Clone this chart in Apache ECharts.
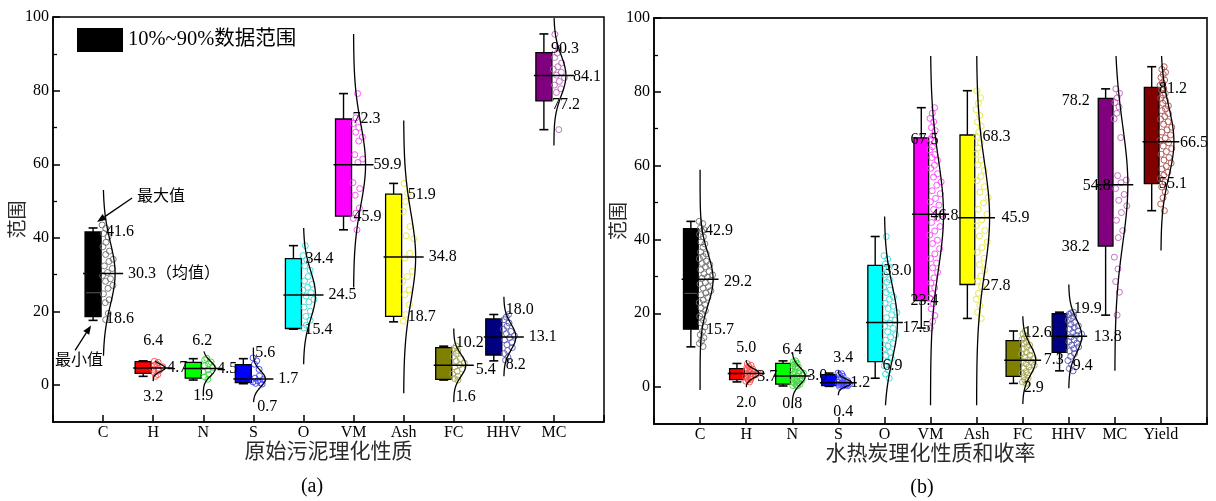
<!DOCTYPE html>
<html>
<head>
<meta charset="utf-8">
<script src="https://cdn.jsdelivr.net/npm/echarts@6/dist/echarts.min.js"></script>
<style>
  html, body { margin: 0; padding: 0; background: #fff; }
  #chart { width: 1216px; height: 501px; }
</style>
</head>
<body>
<div id="chart"></div>
<script>
const SERIF = "'Liberation Serif', 'Noto Sans CJK SC', serif";
const CJK = "'Noto Sans CJK SC', 'Liberation Serif', sans-serif";

// ---- (a) raw sewage sludge ----
const catsA   = ['C', 'H', 'N', 'S', 'O', 'VM', 'Ash', 'FC', 'HHV', 'MC'];
const p10A    = [18.6, 3.2, 1.9, 0.7, 15.4, 45.9, 18.7, 1.6, 8.2, 77.2];
const meanA   = [30.3, 4.7, 4.5, 1.7, 24.5, 59.9, 34.8, 5.4, 13.1, 84.1];
const p90A    = [41.6, 6.4, 6.2, 5.6, 34.4, 72.3, 51.9, 10.2, 18.0, 90.3];
const minA    = [17.6, 2.4, 1.4, 0.4, 15.2, 42.2, 17.2, 1.4, 6.6, 69.4];
const maxA    = [42.7, 6.6, 7.2, 7.2, 37.9, 79.2, 54.8, 10.6, 19.2, 95.4];
const medianA = [25.1, null, null, null, null, null, null, null, null, null];
const sdA     = [8.5, 1.0, 2.0, 2.2, 6.5, 11, 12, 3.0, 3.5, 5.5];
const curveLoA = [8, 1.1, -3, -4.6, 5.7, 26.5, -2.2, -4.6, 2.4, 65.1];
const curveHiA = [53, 6.6, 9.2, 10.2, 42.7, 95.4, 71.9, 15.4, 24, 99.7];
const pointsA = [
  [43.5, 42.6, 41.2, 40.3, 38.8, 37.6, 36.4, 35.5, 34.2, 33.6, 32.4, 31.7, 30.6, 29.8, 28.9, 28.2, 27.1, 26.3, 24.8, 23.2, 22.4, 19.5, 17.8],
  [6.5, 6.2, 5.8, 5.4, 5.0, 4.6, 4.3, 3.9, 3.4, 2.9, 2.4],
  [7.3, 6.9, 6.3, 5.8, 5.3, 4.8, 4.2, 3.6, 2.9, 2.3, 1.6],
  [7.4, 6.6, 5.7, 4.3, 2.5, 1.9, 1.5, 1.2, 0.9, 0.7, 0.5, 0.3],
  [37.9, 35.2, 34.1, 32.4, 31.2, 29.5, 28.3, 27.4, 26.6, 25.8, 25.1, 24.2, 23.3, 22.6, 21.2, 20.1, 18.7, 17.6, 16.3, 15.5],
  [79.2, 72.6, 71.1, 70.0, 68.7, 67.4, 66.3, 62.6, 61.4, 60.5, 55.0, 53.4, 51.6, 48.1, 46.7, 45.3, 42.2],
  [54.8, 52.1, 49.9, 47.2, 43.1, 40.6, 39.8, 35.8, 34.5, 30.9, 29.5, 28.2, 25.9, 24.6, 21.9, 19.2, 17.4],
  [10.6, 10.0, 9.4, 8.6, 7.8, 7.2, 6.5, 6.0, 5.5, 5.0, 4.4, 3.8, 3.0, 2.4, 1.8, 1.4],
  [19.2, 18.5, 17.8, 16.9, 16.0, 15.2, 14.6, 14.0, 13.4, 12.9, 12.3, 11.6, 11.0, 10.2, 9.4, 8.6, 7.6, 6.8],
  [95.3, 91.5, 90.2, 89.0, 87.5, 86.5, 85.8, 85.0, 84.2, 83.5, 82.5, 81.5, 80.5, 79.5, 69.4]
];

// ---- (b) hydrochar and yield ----
const catsB   = ['C', 'H', 'N', 'S', 'O', 'VM', 'Ash', 'FC', 'HHV', 'MC', 'Yield'];
const p10B    = [15.7, 2.0, 0.8, 0.4, 6.9, 23.4, 27.8, 2.9, 9.4, 38.2, 55.1];
const meanB   = [29.2, 3.7, 3.0, 1.2, 17.5, 46.8, 45.9, 7.3, 13.8, 54.8, 66.5];
const p90B    = [42.9, 5.0, 6.4, 3.4, 33.0, 67.5, 68.3, 12.6, 19.9, 78.2, 81.2];
const minB    = [10.9, 1.4, 0.3, 0.2, 2.4, 16.0, 18.6, 1.0, 4.4, 19.5, 47.8];
const maxB    = [44.9, 6.4, 7.1, 3.8, 40.8, 75.7, 80.3, 15.2, 20.3, 80.8, 86.8];
const medianB = [25.4, null, null, null, null, null, null, null, null, null, null];
const sdB     = [7, 1.2, 2.3, 1.0, 10, 15, 15, 4, 4.5, 16, 9.5];
const curveLoB = [-0.8, 0, -5.7, -2.2, -4.9, -4.9, -4.9, -4.6, -0.3, 4.4, 37];
const curveHiB = [58.9, 7.3, 9.2, 4.5, 46.2, 89.7, 89.7, 19.2, 27.8, 89.7, 89.7];
const pointsB = [
  [44.9, 44.3, 43.1, 42.6, 42.2, 41.4, 40.7, 39.3, 38.8, 37.9, 36.6, 36.1, 35.4, 34.8, 34.1, 33.5, 33.2, 32.6, 31.8, 31.3, 30.7, 30.4, 29.8, 29.5, 28.9, 28.3, 27.9, 27.2, 26.8, 26.1, 25.5, 25.0, 24.3, 23.6, 22.9, 22.4, 21.5, 20.7, 19.8, 19.2, 18.1, 17.4, 16.3, 15.1, 14.2, 13.4, 12.6, 11.8, 11.0],
  [6.3, 5.9, 5.6, 5.2, 4.9, 4.7, 4.5, 4.2, 4.0, 3.8, 3.6, 3.5, 3.3, 3.0, 2.8, 2.6, 2.4, 2.1, 1.9, 1.6, 1.4],
  [7.1, 6.9, 6.4, 6.2, 5.8, 5.4, 5.2, 4.9, 4.4, 4.1, 3.8, 3.7, 3.3, 3.1, 2.9, 2.6, 2.4, 2.2, 1.9, 1.7, 1.4, 1.2, 1.0, 0.8, 0.6, 0.4, 0.3],
  [3.8, 3.6, 3.3, 2.9, 2.4, 2.0, 1.7, 1.5, 1.3, 1.1, 1.0, 0.9, 0.8, 0.7, 0.6, 0.5, 0.4, 0.3, 0.2],
  [40.8, 35.6, 34.7, 33.4, 32.6, 31.2, 30.5, 29.1, 28.4, 27.2, 26.3, 25.6, 24.4, 23.8, 22.7, 21.9, 21.3, 20.2, 19.6, 18.8, 18.1, 17.3, 16.5, 15.9, 15.0, 14.2, 13.6, 12.7, 11.8, 11.1, 10.3, 9.4, 8.6, 7.8, 6.9, 5.8, 4.6, 3.5, 2.4],
  [75.7, 74.2, 72.8, 71.9, 70.3, 69.5, 68.1, 67.2, 66.4, 65.1, 64.3, 63.0, 62.2, 61.4, 60.1, 59.3, 57.8, 56.9, 55.6, 54.7, 53.2, 52.4, 51.1, 50.2, 49.3, 48.1, 46.9, 45.8, 44.6, 43.5, 42.3, 41.2, 39.8, 38.9, 37.5, 36.1, 34.8, 33.6, 32.3, 31.1, 29.6, 28.2, 26.9, 25.3, 24.1, 22.6, 21.2, 19.4, 17.8, 16.0],
  [80.3, 78.4, 76.9, 75.2, 73.6, 71.8, 70.7, 69.1, 67.9, 66.2, 64.8, 63.1, 61.5, 60.2, 58.7, 57.1, 55.9, 54.3, 52.8, 51.4, 49.9, 48.2, 46.8, 45.3, 43.7, 42.4, 40.9, 39.3, 37.8, 36.5, 34.9, 33.2, 31.8, 30.1, 28.7, 27.2, 25.4, 23.8, 22.1, 20.3, 18.6],
  [15.2, 14.4, 13.8, 13.3, 12.9, 12.3, 11.8, 11.4, 10.9, 10.3, 9.9, 9.4, 9.0, 8.6, 8.1, 7.7, 7.4, 7.0, 6.7, 6.3, 5.9, 5.5, 5.1, 4.6, 4.2, 3.8, 3.3, 2.8, 2.4, 1.9, 1.4, 1.0],
  [20.3, 20.1, 19.7, 19.2, 18.6, 18.1, 17.5, 17.0, 16.6, 16.1, 15.7, 15.2, 14.8, 14.4, 14.0, 13.6, 13.1, 12.8, 12.3, 11.9, 11.4, 10.9, 10.4, 9.8, 9.1, 8.3, 7.2, 6.1, 5.0, 4.4],
  [80.8, 79.6, 78.4, 77.1, 75.9, 74.2, 72.7, 67.6, 57.3, 56.1, 55.4, 53.8, 52.2, 50.6, 49.1, 47.3, 45.2, 42.4, 40.5, 35.2, 32.0, 28.6, 25.7, 19.5],
  [86.8, 86.1, 85.3, 84.7, 83.9, 83.2, 82.4, 81.8, 81.0, 80.5, 79.6, 79.1, 78.3, 77.6, 76.9, 76.2, 75.4, 74.9, 74.1, 73.3, 72.6, 71.9, 71.2, 70.4, 69.7, 69.1, 68.3, 67.5, 66.8, 66.2, 65.3, 64.6, 63.8, 63.1, 62.2, 61.5, 60.7, 59.8, 59.1, 58.2, 57.4, 56.5, 55.6, 54.2, 52.9, 51.3, 49.6, 47.8]
];

// axis tick values
const yMajorTicks = [0, 20, 40, 60, 80, 100];
const yMinorTicks = [30, 50, 70, 90];

// box fills and scatter outline colours
const boxColors   = ['#000000', '#ff0000', '#00ff00', '#0000ff', '#00ffff', '#ff00ff', '#ffff00', '#808000', '#000080', '#800080', '#800000'];
const pointColors = ['#6e6e6e', '#ff4a4a', '#3ad83a', '#4040ff', '#30dede', '#ff40ff', '#e6e632', '#a6a64e', '#5a5ab8', '#c060c0', '#b05050'];

// label offsets in pixels: [dx, dy, align] for the 90%, mean and 10% labels
const labTopA  = [[3,0,'left'],[0,-21,'center'],[-1,-22,'center'],[2,-12,'left'],[2,0,'left'],[-1,0,'left'],[4,1,'left'],[2,-5,'left'],[2,-9,'left'],[-3,-4,'left']];
const labMeanA = [[25,0,'left'],[14,0,'left'],[14,0,'left'],[25,0,'left'],[25,0,'left'],[20,0,'left'],[25,0,'left'],[22,4,'left'],[25,0,'left'],[19,1,'left']];
const labBotA  = [[3,2,'left'],[0,23,'center'],[0,18,'center'],[4,24,'left'],[1,1,'left'],[0,1,'left'],[4,0,'left'],[2,18,'left'],[2,10,'left'],[-2,4,'left']];
const labTopB  = [[5,2,'left'],[0,-21,'center'],[0,-14,'center'],[5,-17,'center'],[-1,6,'left'],[-6,2,'center'],[6,2,'left'],[1,-8,'left'],[5,-5,'left'],[-25,2,'right'],[-2,1,'left']];
const labMeanB = [[24,2,'left'],[11,3,'left'],[15,0,'left'],[12,0,'left'],[18,5,'left'],[0,1,'left'],[25,0,'left'],[21,0,'left'],[25,1,'left'],[-4,1,'right'],[19,1,'left']];
const labBotB  = [[6,1,'left'],[0,23,'center'],[0,20,'center'],[5,26,'center'],[-2,4,'left'],[-6,0,'center'],[6,1,'left'],[1,11,'left'],[4,13,'left'],[-25,1,'right'],[-2,0,'left']];

const panelA = {
  cats: catsA, p10: p10A, mean: meanA, p90: p90A, min: minA, max: maxA, median: medianA,
  sd: sdA, lo: curveLoA, hi: curveHiA, points: pointsA,
  labTop: labTopA, labMean: labMeanA, labBot: labBotA,
  meanSuffix: ['（均值）'], amp: 12, notes: true
};
const panelB = {
  cats: catsB, p10: p10B, mean: meanB, p90: p90B, min: minB, max: maxB, median: medianB,
  sd: sdB, lo: curveLoB, hi: curveHiB, points: pointsB,
  labTop: labTopB, labMean: labMeanB, labBot: labBotB,
  meanSuffix: [], amp: 13, notes: false
};

function line(x1, y1, x2, y2, w, col) {
  return { type: 'line', shape: { x1, y1, x2, y2 }, style: { stroke: col || '#000', lineWidth: w || 1.3 } };
}
function text(x, y, str, align, size, family) {
  return {
    type: 'text', x, y,
    style: {
      text: str, fill: '#000', font: (size || 16) + 'px ' + (family || SERIF),
      textAlign: align, textVerticalAlign: 'middle', align: align, verticalAlign: 'middle'
    }
  };
}
function arrow(x1, y1, x2, y2) {
  const a = Math.atan2(y2 - y1, x2 - x1), L = 9, W = 3.5;
  const bx = x2 - L * Math.cos(a), by = y2 - L * Math.sin(a);
  const nx = -Math.sin(a) * W, ny = Math.cos(a) * W;
  return [
    line(x1, y1, bx, by, 1.3),
    { type: 'polygon', shape: { points: [[x2, y2], [bx + nx, by + ny], [bx - nx, by - ny]] }, style: { fill: '#000' } }
  ];
}

function buildPanel(P, gi) {
  const yi = gi * 2;
  const curveW = (i, v) => {
    const z = (v - P.mean[i]) / P.sd[i];
    return P.amp * Math.exp(-0.5 * z * z);
  };
  const catData = P.cats.map((_, i) => [i + 1, P.mean[i]]);

  const boxes = {
    type: 'custom', xAxisIndex: gi, yAxisIndex: yi, z: 2, silent: true, clip: false,
    encode: { x: 0, y: 1 }, data: catData,
    renderItem(params, api) {
      const i = params.dataIndex, c = i + 1;
      const tl = api.coord([c - 0.36, P.p90[i]]);
      const br = api.coord([c - 0.04, P.p10[i]]);
      const bx = (tl[0] + br[0]) / 2;
      const yMax = api.coord([c, P.max[i]])[1];
      const yMin = api.coord([c, P.min[i]])[1];
      const ch = [
        line(bx, yMax, bx, tl[1], 1.4), line(bx, br[1], bx, yMin, 1.4),
        line(bx - 4.5, yMax, bx + 4.5, yMax, 1.6), line(bx - 4.5, yMin, bx + 4.5, yMin, 1.6),
        { type: 'rect', shape: { x: tl[0], y: tl[1], width: br[0] - tl[0], height: br[1] - tl[1] },
          style: { fill: boxColors[i], stroke: '#000', lineWidth: 1.3 } }
      ];
      if (P.median[i] != null) {
        const ym = api.coord([c, P.median[i]])[1];
        ch.push(line(tl[0] + 1, ym, br[0] - 1, ym, 1, '#5a5a5a'));
      }
      return { type: 'group', children: ch };
    }
  };

  const ptData = [];
  P.points.forEach((arr, i) => arr.forEach((v, k) => ptData.push([i + 1, v, k])));
  const points = {
    type: 'custom', xAxisIndex: gi, yAxisIndex: yi, z: 3, silent: true, clip: false,
    encode: { x: 0, y: 1 }, data: ptData,
    renderItem(params, api) {
      const c = api.value(0), v = api.value(1), k = api.value(2), i = c - 1;
      const p = api.coord([c, v]);
      const w = Math.max(5, curveW(i, v));
      const f = (k * 0.6180339 + i * 0.37) % 1;
      return {
        type: 'circle', shape: { cx: p[0] - 1 + f * (w + 1), cy: p[1], r: 3 },
        style: { fill: 'rgba(0,0,0,0)', stroke: pointColors[i], lineWidth: 0.9 }
      };
    }
  };

  const overlay = {
    type: 'custom', xAxisIndex: gi, yAxisIndex: yi, z: 4, silent: true, clip: false,
    encode: { x: 0, y: 1 }, data: catData,
    renderItem(params, api) {
      const i = params.dataIndex, c = i + 1;
      const pts = [];
      const n = 100;
      for (let s = 0; s <= n; s++) {
        const v = P.lo[i] + (P.hi[i] - P.lo[i]) * s / n;
        const p = api.coord([c, v]);
        pts.push([p[0] + curveW(i, v), p[1]]);
      }
      const ml = api.coord([c - 0.4, P.mean[i]]);
      const mr = api.coord([c + 0.4, P.mean[i]]);
      const lab = (val, L, str) => {
        const p = api.coord([c, val]);
        return text(p[0] + L[0], p[1] + L[1], str, L[2]);
      };
      const ch = [
        { type: 'polyline', shape: { points: pts }, style: { stroke: '#000', lineWidth: 1.3, fill: null } },
        line(ml[0], ml[1], mr[0], mr[1], 1.5),
        lab(P.p90[i], P.labTop[i], P.p90[i].toFixed(1)),
        lab(P.mean[i], P.labMean[i], P.mean[i].toFixed(1) + (P.meanSuffix[i] || '')),
        lab(P.p10[i], P.labBot[i], P.p10[i].toFixed(1))
      ];
      if (P.notes && i === 0) {
        const top = api.coord([c, P.max[i]]);
        const bot = api.coord([c, P.min[i]]);
        ch.push(text(top[0] + 34, top[1] - 33, '最大值', 'left', 16, CJK));
        ch.push(...arrow(top[0] + 29, top[1] - 30, top[0] - 6, top[1] - 6));
        ch.push(text(bot[0] - 24, bot[1] + 39, '最小值', 'center', 16, CJK));
        ch.push(...arrow(bot[0] - 28, bot[1] + 30, bot[0] - 12, bot[1] + 5));
      }
      return { type: 'group', children: ch };
    }
  };
  return [boxes, points, overlay];
}

function xAxisFor(P, gi, name) {
  return {
    gridIndex: gi, type: 'value', min: 0, max: P.cats.length + 1, interval: 1,
    axisLine: { onZero: false, lineStyle: { color: '#000', width: 1.5 } },
    axisTick: { inside: true, length: 7, lineStyle: { color: '#000', width: 1.5 } },
    axisLabel: { formatter: v => P.cats[v - 1] || '', margin: 3, fontSize: 16, fontFamily: SERIF, color: '#000' },
    splitLine: { show: false },
    name: name, nameLocation: 'middle', nameGap: 18, nameMoveOverlap: false,
    nameTextStyle: { fontSize: 21, fontFamily: CJK, color: '#2a2a2a' }
  };
}
function yAxesFor(gi, gap) {
  return [
    {
      gridIndex: gi, type: 'value', min: -10, max: 100, position: 'left',
      axisLine: { show: true, onZero: false, lineStyle: { color: '#000', width: 1.5 } },
      axisTick: { show: true, inside: true, length: 7, customValues: yMajorTicks, lineStyle: { color: '#000', width: 1.5 } },
      axisLabel: { customValues: yMajorTicks, margin: 4, fontSize: 16, fontFamily: SERIF, color: '#000' },
      splitLine: { show: false },
      name: '范围', nameLocation: 'middle', nameGap: gap, nameRotate: 90, nameMoveOverlap: false,
      nameTextStyle: { fontSize: 19, fontFamily: CJK, color: '#2a2a2a' }
    },
    {
      gridIndex: gi, type: 'value', min: -10, max: 100, position: 'left',
      axisLine: { show: false, onZero: false },
      axisTick: { show: true, inside: true, length: 4, customValues: yMinorTicks, lineStyle: { color: '#000', width: 1.3 } },
      axisLabel: { show: false },
      splitLine: { show: false }
    }
  ];
}

const chart = echarts.init(document.getElementById('chart'), null, { renderer: 'canvas' });
chart.setOption({
  animation: false,
  backgroundColor: '#fff',
  grid: [
    { left: 53, top: 17, width: 551, height: 405, show: true, borderColor: '#000', borderWidth: 1.5, containLabel: false },
    { left: 654, top: 18, width: 553, height: 406, show: true, borderColor: '#222', borderWidth: 1.8, containLabel: false }
  ],
  xAxis: [xAxisFor(panelA, 0, '原始污泥理化性质'), xAxisFor(panelB, 1, '水热炭理化性质和收率')],
  yAxis: [...yAxesFor(0, 27), ...yAxesFor(1, 27)],
  series: [...buildPanel(panelA, 0), ...buildPanel(panelB, 1)],
  graphic: [
    { type: 'rect', left: 77, top: 28, shape: { width: 46, height: 24 }, style: { fill: '#000' } },
    { type: 'text', x: 128, y: 40, style: { text: '10%~90%数据范围', font: '20.5px ' + SERIF, fill: '#000', textVerticalAlign: 'middle', verticalAlign: 'middle' } },
    { type: 'text', x: 312, y: 487, style: { text: '(a)', font: '20px ' + SERIF, fill: '#000', textAlign: 'center', align: 'center', textVerticalAlign: 'middle', verticalAlign: 'middle' } },
    { type: 'text', x: 922, y: 488, style: { text: '(b)', font: '20px ' + SERIF, fill: '#000', textAlign: 'center', align: 'center', textVerticalAlign: 'middle', verticalAlign: 'middle' } }
  ]
});
</script>
</body>
</html>
